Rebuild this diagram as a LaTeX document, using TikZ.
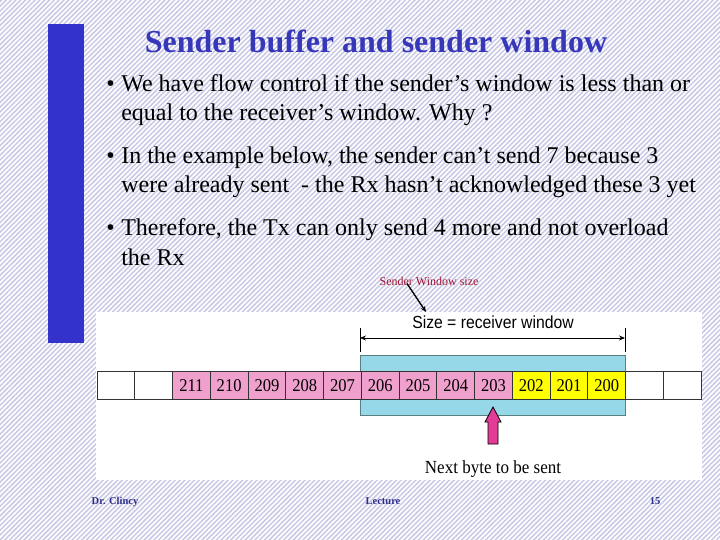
\documentclass[tikz,border=0pt]{standalone}
\usepackage{fontspec}
\setmainfont{Liberation Serif}
\newfontfamily\narrowserif[FakeStretch=0.92]{Liberation Serif}
\newfontfamily\narrowsans[FakeStretch=0.9]{Liberation Sans}
\usetikzlibrary{patterns.meta,arrows.meta}
\definecolor{hatchcol}{RGB}{200,200,230}
\definecolor{barblue}{RGB}{51,51,204}
\definecolor{titleblue}{RGB}{55,55,185}
\definecolor{cellpink}{RGB}{240,160,205}
\definecolor{cellyellow}{RGB}{255,255,0}
\definecolor{winblue}{RGB}{150,215,232}
\definecolor{arrowpink}{RGB}{228,60,150}
\definecolor{labelred}{RGB}{160,20,50}
\definecolor{footblue}{RGB}{45,45,140}
\tikzset{
  bodytext/.style={anchor=base west,inner sep=0pt,font=\fontsize{24}{26}\selectfont},
  cell/.style={draw=black!80,line width=1pt,anchor=north west,minimum width=37.76pt,
    minimum height=28pt,inner sep=0pt,font=\narrowserif\fontsize{18}{18}\selectfont},
  foottext/.style={anchor=base,inner sep=0pt,text=footblue,font=\bfseries\fontsize{10.5}{10}\selectfont}
}
\begin{document}
\begin{tikzpicture}[x=1pt,y=-1pt,line width=.6pt,>={Stealth[length=6pt,width=5pt]}]
\useasboundingbox (0,0) rectangle (720,540);
% hatched slide background
\fill[white] (0,0) rectangle (720,540);
\fill[pattern={Lines[angle=45,distance=3.4pt,line width=1.5pt]},pattern color=hatchcol] (0,0) rectangle (720,540);
\fill[barblue] (48,24) rectangle (84,343);
\node[anchor=base,inner sep=0pt,text=titleblue,font=\bfseries\fontsize{32}{34}\selectfont] (title) at (376,53) {Sender buffer and sender window};
% bullets
\foreach \y in {92,164,236}{\node[bodytext] at (106,\y) {\textbullet};}
\foreach \y/\txt in {92/{We have flow control if the sender’s window is less than or},
  121/{equal to the receiver’s window. Why ?},
  164/{In the example below, the sender can’t send 7 because 3},
  193/{were already sent\ \ - the Rx hasn’t acknowledged these 3 yet},
  236/{Therefore, the Tx can only send 4 more and not overload},
  265/{the Rx}}{\node[bodytext] at (121,\y) {\txt};}
% figure panel
\fill[white] (96,312) rectangle (702,480);
\fill[winblue,draw=gray!70!teal] (360,355) rectangle (625,415);
\foreach \i/\num/\col in {0//white,1//white,2/211/cellpink,3/210/cellpink,4/209/cellpink,
  5/208/cellpink,6/207/cellpink,7/206/cellpink,8/205/cellpink,9/204/cellpink,10/203/cellpink,
  11/202/cellyellow,12/201/cellyellow,13/200/cellyellow,14//white,15//white}{
  \node[cell,fill=\col] (c\i) at (96.5+37.76*\i,371) {\num};}
% window size
\coordinate (wl) at (360,338); \coordinate (wr) at (625,338);
\draw[line width=.9pt] (360,328)--(360,352); \draw[line width=.9pt] (625,328)--(625,352);
\draw[<->,line width=.8pt] (wl)--(wr);
\node[inner sep=0pt,font=\narrowsans\fontsize{17.5}{18}\selectfont] (size) at (493,322) {Size = receiver window};
\node[inner sep=0pt,text=labelred,font=\fontsize{12}{12}\selectfont] (swl) at (429,281) {Sender Window size};
\coordinate (swtip) at (426,312);
\draw[->,line width=1.3pt] ([xshift=-22pt,yshift=2pt]swl.south)--(swtip);
% next byte arrow
\filldraw[fill=arrowpink,draw=black,line width=.8pt] (493,407)--(501,422)--(498,422)--(498,444)
  --(488,444)--(488,422)--(485,422)--cycle;
\node[inner sep=0pt,font=\narrowserif\fontsize{18.5}{18}\selectfont] (next) at (493,469) {Next byte to be sent};
% footer
\node[foottext] (auth) at (115,504) {Dr. Clincy};
\node[foottext] (lect) at (383,504) {Lecture};
\node[foottext] (page) at (655,504) {15};
\end{tikzpicture}
\end{document}
